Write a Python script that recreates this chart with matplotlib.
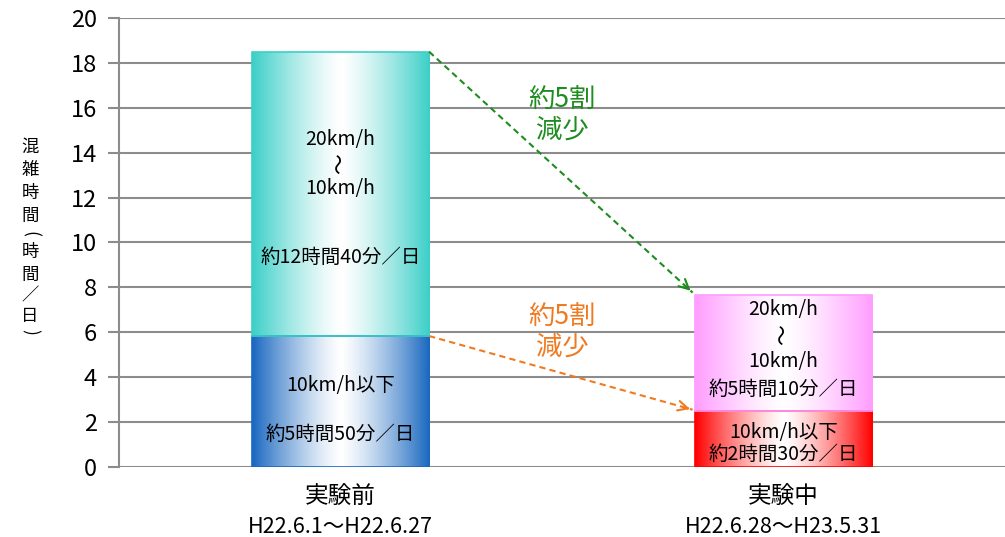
import numpy as np
import matplotlib.pyplot as plt
import matplotlib as mpl
from matplotlib.colors import to_rgb

mpl.rcParams['font.family'] = ['Noto Sans CJK JP', 'DejaVu Sans']

# hours per day of congestion, split by speed band
categories = ['実験前', '実験中']
periods    = ['H22.6.1～H22.6.27', 'H22.6.28～H23.5.31']
slow_hours = [5 + 50/60, 2 + 30/60]     # 10km/h以下
mid_hours  = [12 + 40/60, 5 + 10/60]    # 20km/h ～ 10km/h
slow_labels = ['10km/h以下\n\n約5時間50分／日', '10km/h以下\n約2時間30分／日']
mid_labels  = ['約12時間40分／日', '約5時間10分／日']

slow_colors = ['#1a68c0', '#ff0000']
mid_colors  = ['#3ccfc8', '#ff9cff']


def gradientFill(ax, patch, color, power=1.3):
    '''fill a bar patch with a horizontal edge-to-white-to-edge gradient'''
    t = np.linspace(0, 1, 256)
    w = np.abs(2*t - 1)**power
    c = np.array(to_rgb(color))
    img = (1 - w)[:, None] * np.ones(3) + w[:, None] * c
    img = img[None, :, :]
    x0, y0 = patch.get_x(), patch.get_y()
    x1, y1 = x0 + patch.get_width(), y0 + patch.get_height()
    im = ax.imshow(img, extent=[x0, x1, y0, y1], aspect='auto',
                   interpolation='bilinear', zorder=3)
    im.set_clip_path(patch)


def main():
    fig = plt.figure(figsize=(10.05, 5.37), dpi=100)
    ax = fig.add_axes([0.1184, 0.1304, 0.8816, 0.8361])

    x = np.arange(len(categories))
    width = 0.40

    barsSlow = ax.bar(x, slow_hours, width, facecolor='none', edgecolor=slow_colors, lw=1.2, zorder=4)
    barsMid  = ax.bar(x, mid_hours, width, bottom=slow_hours, facecolor='none', edgecolor=mid_colors, lw=1.2, zorder=4)

    for bars, cols in [(barsSlow, slow_colors), (barsMid, mid_colors)]:
        for p, c in zip(bars.patches, cols):
            gradientFill(ax, p, c)

    ax.set_xlim(-0.5, 1.5)
    ax.set_ylim(0, 20)
    ax.set_yticks(np.arange(0, 21, 2))
    ax.yaxis.grid(True, color='#8c8c8c', lw=1.5)
    ax.set_axisbelow(True)
    for s in ['top', 'right', 'bottom']:
        ax.spines[s].set_visible(False)
    ax.spines['left'].set_color('#8c8c8c')
    ax.spines['left'].set_linewidth(1.5)
    ax.tick_params(axis='y', direction='out', length=8, width=1.5, color='#8c8c8c',
                   labelsize=17, pad=8)

    # category labels under each bar
    ax.set_xticks([])
    trans = ax.get_xaxis_transform()
    for xi, cat, per in zip(x, categories, periods):
        ax.text(xi, -0.066, cat, transform=trans, ha='center', va='center', fontsize=17)
        ax.text(xi, -0.133, per, transform=trans, ha='center', va='center', fontsize=15.5)

    # vertical y label, one character at a time
    ylab = '混雑時間(時間／日)'
    ypix = [147, 170, 193, 216, 234, 252, 275, 296, 316, 332]
    for ch, yp in zip(ylab, ypix):
        rot = 0
        if ch == '(' or ch == ')':
            rot = -90
        fig.text(30/1005, 1 - yp/537, ch, fontsize=12.5, ha='center', va='center', rotation=rot)

    # text inside the bars
    fs = 14
    ax.text(x[0], 14.6, '20km/h', ha='center', va='center', fontsize=fs)
    ax.text(x[0], 13.5, '～', ha='center', va='center', fontsize=15, rotation=90)
    ax.text(x[0], 12.4, '10km/h', ha='center', va='center', fontsize=fs)
    ax.text(x[0], 9.35, mid_labels[0], ha='center', va='center', fontsize=fs)
    ax.text(x[0], 2.55, slow_labels[0], ha='center', va='center', fontsize=fs, linespacing=1.2)

    ax.text(x[1], 7.0, '20km/h', ha='center', va='center', fontsize=fs)
    ax.text(x[1], 5.9, '～', ha='center', va='center', fontsize=15, rotation=90)
    ax.text(x[1], 4.7, '10km/h', ha='center', va='center', fontsize=fs)
    ax.text(x[1], 3.45, mid_labels[1], ha='center', va='center', fontsize=fs)
    ax.text(x[1], 1.05, slow_labels[1], ha='center', va='center', fontsize=fs, linespacing=1.05)

    # reduction arrows between bars
    totals = [s + m for s, m in zip(slow_hours, mid_hours)]
    arrows = [
        ((x[0] + width/2, totals[0]), (x[1] - width/2 - 0.005, totals[1] + 0.1), '#1e8c1e', 16.35),
        ((x[0] + width/2, slow_hours[0]), (x[1] - width/2 - 0.005, slow_hours[1] + 0.05), '#f07a20', 6.65),
    ]
    for start, end, col, ty in arrows:
        sx, sy = start
        ex, ey = end
        ax.plot([sx, ex], [sy, ey], ls=(0, (3, 2)), color=col, lw=1.5, zorder=6)
        bx, by = ex - 0.03*(ex - sx), ey - 0.03*(ey - sy)
        ax.annotate('', xy=(ex, ey), xytext=(bx, by),
                    arrowprops=dict(arrowstyle='->,head_length=0.7,head_width=0.35', color=col, lw=1.5),
                    zorder=7)
        ax.text(0.5, ty, '約5割', color=col, ha='center', va='center', fontsize=19, zorder=8)
        ax.text(0.5, ty - 1.33, '減少', color=col, ha='center', va='center', fontsize=19, zorder=8)

    plt.savefig('out.png', dpi=100)


if __name__ == '__main__':
    main()
